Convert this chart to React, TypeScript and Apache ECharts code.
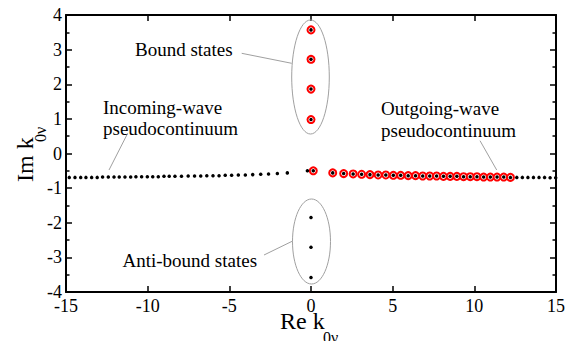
import React, { useEffect, useRef } from "react";
import * as echarts from "echarts";

// Incoming-wave pseudocontinuum (black dots, Re k < 0)
const incomingX = [-14.8, -14.45, -14.1, -13.78, -13.43, -13.09, -12.76, -12.41, -12.06, -11.74, -11.39, -11.04, -10.72, -10.37, -10.02, -9.69, -9.35, -9.0, -8.68, -8.33, -7.93, -7.52, -7.13, -6.75, -6.38, -6.0, -5.63, -5.25, -4.86, -4.45, -4.02, -3.57, -3.08, -2.6, -2.06, -1.45];
const incomingY = [-0.69, -0.69, -0.69, -0.69, -0.69, -0.69, -0.68, -0.68, -0.68, -0.68, -0.68, -0.68, -0.67, -0.67, -0.67, -0.67, -0.67, -0.66, -0.66, -0.66, -0.66, -0.65, -0.65, -0.65, -0.64, -0.64, -0.64, -0.63, -0.63, -0.62, -0.62, -0.61, -0.6, -0.59, -0.58, -0.56];

// Outgoing-wave pseudocontinuum, states marked with red circles
const outgoingX = [0.14, 1.33, 2.0, 2.58, 3.1, 3.61, 4.11, 4.58, 5.04, 5.49, 5.95, 6.4, 6.84, 7.27, 7.69, 8.11, 8.52, 8.93, 9.34, 9.75, 10.16, 10.57, 10.98, 11.39, 11.8, 12.21];
const outgoingY = [-0.5, -0.56, -0.58, -0.59, -0.6, -0.61, -0.62, -0.62, -0.63, -0.63, -0.64, -0.64, -0.65, -0.65, -0.65, -0.66, -0.66, -0.66, -0.67, -0.67, -0.67, -0.68, -0.68, -0.68, -0.68, -0.69];

// Outgoing-wave continuum beyond the circled states (black dots)
const tailX = [12.6, 12.94, 13.28, 13.62, 13.96, 14.3, 14.64, 14.98];
const tailY = [-0.69, -0.69, -0.69, -0.69, -0.69, -0.69, -0.7, -0.7];

// Near-origin black dot
const nearX = [-0.22];
const nearY = [-0.5];

// Bound states (circled) and anti-bound states
const boundX = [0, 0, 0, 0];
const boundY = [3.57, 2.72, 1.86, 0.98];
const antiX = [0, 0, 0];
const antiY = [-1.85, -2.71, -3.58];

const xTicks = { min: -15, max: 15, interval: 5 };
const yTicks = { min: -4, max: 4, interval: 1 };

const zip = (xs: number[], ys: number[]) => xs.map((x, i) => [x, ys[i]]);

const FONT = "Liberation Serif, Times New Roman, serif";

export default function App() {
  const ref = useRef<HTMLDivElement>(null);
  useEffect(() => {
    document.body.style.margin = "0";
    if (!ref.current) return;
    const chart = echarts.init(ref.current, undefined, { renderer: "svg" });
    const axisLine = { show: true, onZero: false, lineStyle: { color: "#000", width: 2 } };
    const tick = { show: true, inside: true, length: 6, lineStyle: { color: "#000", width: 1.5 } };
    const label = { color: "#000", fontFamily: FONT, fontSize: 18 };
    const redCircles = zip(outgoingX, outgoingY).concat(zip(boundX, boundY));
    const blackDots = zip(incomingX, incomingY)
      .concat(zip(outgoingX, outgoingY))
      .concat(zip(tailX, tailY))
      .concat(zip(nearX, nearY))
      .concat(zip(boundX, boundY))
      .concat(zip(antiX, antiY));
    const gray = "#a0a0a0";
    const txt = (text: string, x: number, y: number) => ({
      type: "text",
      x,
      y,
      style: { text, fontFamily: FONT, fontSize: 19, fill: "#000", textAlign: "left", textVerticalAlign: "middle" },
    });
    const ln = (x1: number, y1: number, x2: number, y2: number) => ({
      type: "line",
      shape: { x1, y1, x2, y2 },
      style: { stroke: gray, lineWidth: 1 },
    });
    chart.setOption({
      animation: false,
      grid: { left: 66, right: 20, top: 15, bottom: 49 },
      xAxis: [
        {
          type: "value", ...xTicks, position: "bottom",
          axisLine, axisTick: tick, splitLine: { show: false },
          axisLabel: { ...label, margin: 5 },
        },
        {
          type: "value", ...xTicks, position: "top",
          axisLine, axisTick: tick, splitLine: { show: false },
          axisLabel: { show: false },
        },
      ],
      yAxis: [
        {
          type: "value", ...yTicks, position: "left",
          axisLine, axisTick: tick, splitLine: { show: false },
          minorTick: { show: true, splitNumber: 2, length: 3.5, lineStyle: { color: "#000", width: 1.5 } },
          axisLabel: { ...label, margin: 4 },
        },
        {
          type: "value", ...yTicks, position: "right",
          axisLine, axisTick: tick, splitLine: { show: false },
          minorTick: { show: true, splitNumber: 2, length: 3.5, lineStyle: { color: "#000", width: 1.5 } },
          axisLabel: { show: false },
        },
      ],
      series: [
        {
          type: "scatter",
          data: redCircles,
          symbol: "circle",
          symbolSize: 7,
          itemStyle: { color: "#fff", borderColor: "#ff0000", borderWidth: 2, opacity: 1 },
          z: 3,
        },
        {
          type: "scatter",
          data: blackDots,
          symbol: "circle",
          symbolSize: 3.5,
          itemStyle: { color: "#000", opacity: 1 },
          z: 4,
        },
      ],
      graphic: [
        {
          type: "ellipse",
          shape: { cx: 310.5, cy: 77, rx: 18.8, ry: 57 },
          style: { fill: "none", stroke: gray, lineWidth: 1 },
          z: 1,
        },
        {
          type: "ellipse",
          shape: { cx: 311.5, cy: 241.5, rx: 19, ry: 42.5 },
          style: { fill: "none", stroke: gray, lineWidth: 1 },
          z: 1,
        },
        ln(241.7, 53.3, 291.7, 63.3),
        ln(127.7, 133.3, 109, 170),
        ln(480, 140.7, 496.7, 170),
        ln(264, 255, 292.7, 241),
        txt("Bound states", 135, 49),
        txt("Incoming-wave", 103, 107),
        txt("pseudocontinuum", 103, 128.5),
        txt("Outgoing-wave", 381, 108.5),
        txt("pseudocontinuum", 381, 130),
        txt("Anti-bound states", 122.5, 260),
        {
          type: "text", x: 280, y: 321,
          style: { text: "Re k", fontFamily: FONT, fontSize: 24, fill: "#000", textAlign: "left", textVerticalAlign: "middle" },
        },
        {
          type: "text", x: 323, y: 337,
          style: { text: "0ν", fontFamily: FONT, fontSize: 16, fill: "#000", textAlign: "left", textVerticalAlign: "middle" },
        },
        {
          type: "text", x: 25, y: 182, rotation: Math.PI / 2,
          style: { text: "Im k", fontFamily: FONT, fontSize: 24, fill: "#000", textAlign: "left", textVerticalAlign: "middle" },
        },
        {
          type: "text", x: 40, y: 142, rotation: Math.PI / 2,
          style: { text: "0ν", fontFamily: FONT, fontSize: 16, fill: "#000", textAlign: "left", textVerticalAlign: "middle" },
        },
      ],
    });
    return () => chart.dispose();
  }, []);
  return <div ref={ref} style={{ width: 576, height: 341 }} />;
}
